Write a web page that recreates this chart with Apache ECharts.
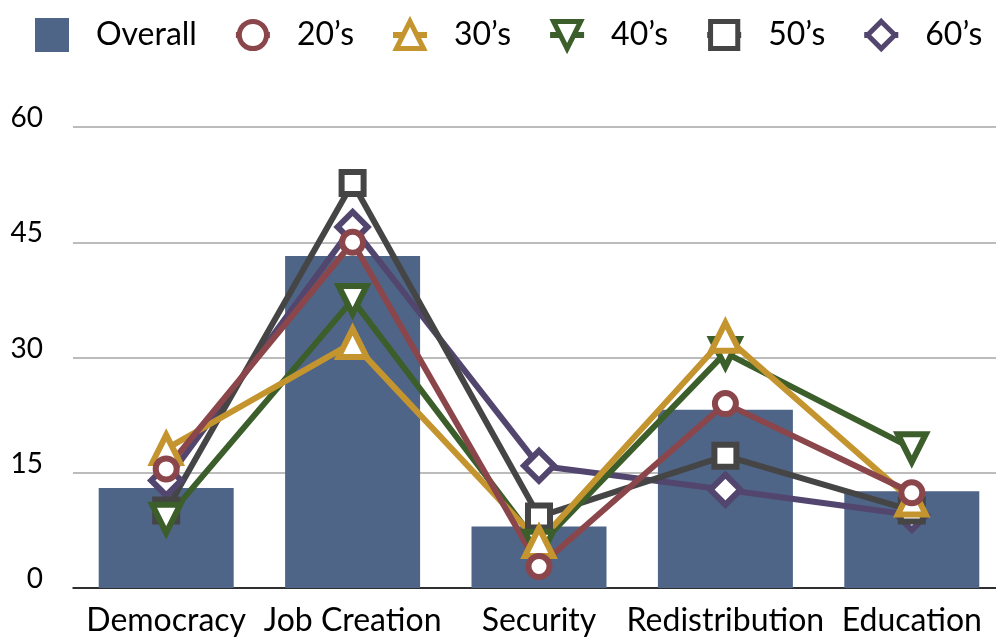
<!DOCTYPE html>
<html>
<head>
<meta charset="utf-8">
<script src="https://cdn.jsdelivr.net/npm/echarts@6/dist/echarts.min.js"></script>
<style>
html,body{margin:0;padding:0;background:#fff;}
#chart{width:996px;height:644px;}
</style>
</head>
<body>
<div id="chart"></div>
<script>
const categories = ['Democracy', 'Job Creation', 'Security', 'Redistribution', 'Education'];
const overall = [13, 43.2, 8, 23.2, 12.6];
const s20 = [15.5, 45, 2.8, 24, 12.4];
const s30 = [18.1, 31.9, 6, 32.7, 11.4];
const s40 = [9, 37.5, 5.5, 30.6, 18.2];
const s50 = [10.1, 52.7, 9.3, 17.2, 10.1];
const s60 = [14, 47, 15.9, 12.8, 9.5];
const yTicks = [0, 15, 30, 45, 60];

const FONT = 'Lato';
const chart = echarts.init(document.getElementById('chart'));

function lineSeries(name, data, color, symbol, size, rotate) {
  return {
    name: name,
    type: 'line',
    data: data,
    symbol: symbol,
    symbolSize: size,
    symbolRotate: rotate || 0,
    showAllSymbol: true,
    lineStyle: { color: color, width: 6 },
    itemStyle: { color: '#ffffff', borderColor: color, borderWidth: 6 },
    emphasis: { disabled: true },
    z: 3
  };
}

chart.setOption({
  animation: false,
  backgroundColor: '#fff',
  textStyle: { fontFamily: FONT },
  legend: {
    left: 30,
    top: 13,
    width: 1000,
    itemWidth: 34,
    itemHeight: 34,
    itemGap: 36,
    itemStyle: { borderWidth: 5 },
    lineStyle: { width: 6 },
    data: [
      { name: 'Overall', icon: 'rect', itemStyle: { color: '#4f6587', borderWidth: 0 } },
      '20’s', '30’s', '40’s', '50’s', '60’s'
    ],
    textStyle: { fontFamily: FONT, fontSize: 32, color: '#000', padding: [0, 0, 0, 22] }
  },
  grid: {
    left: 73,
    top: 127,
    width: 932,
    height: 461,
    outerBoundsMode: 'none',
    containLabel: false
  },
  xAxis: {
    type: 'category',
    data: categories,
    axisTick: { show: false },
    axisLine: { lineStyle: { color: '#000', width: 1.5 } },
    axisLabel: { fontFamily: FONT, fontSize: 32, color: '#000', margin: 17, interval: 0 }
  },
  yAxis: {
    type: 'value',
    min: yTicks[0],
    max: yTicks[yTicks.length - 1],
    interval: 15,
    axisLine: { show: false },
    axisTick: { show: false },
    splitLine: { lineStyle: { color: '#a6a6a6', width: 1.5 } },
    axisLabel: { fontFamily: FONT, fontSize: 28, color: '#000', margin: 30, verticalAlign: 'bottom', lineHeight: 18 }
  },
  series: [
    {
      name: 'Overall',
      type: 'bar',
      data: overall,
      barWidth: 135,
      itemStyle: { color: '#4f6587' },
      emphasis: { disabled: true },
      z: 2
    },
    lineSeries('60’s', s60, '#52466e', 'diamond', 30),
    lineSeries('50’s', s50, '#454545', 'rect', 22),
    lineSeries('40’s', s40, '#3c5e2b', 'triangle', 28, 180),
    lineSeries('30’s', s30, '#c4952f', 'triangle', 28),
    lineSeries('20’s', s20, '#8b464b', 'circle', 21)
  ]
});
</script>
</body>
</html>
